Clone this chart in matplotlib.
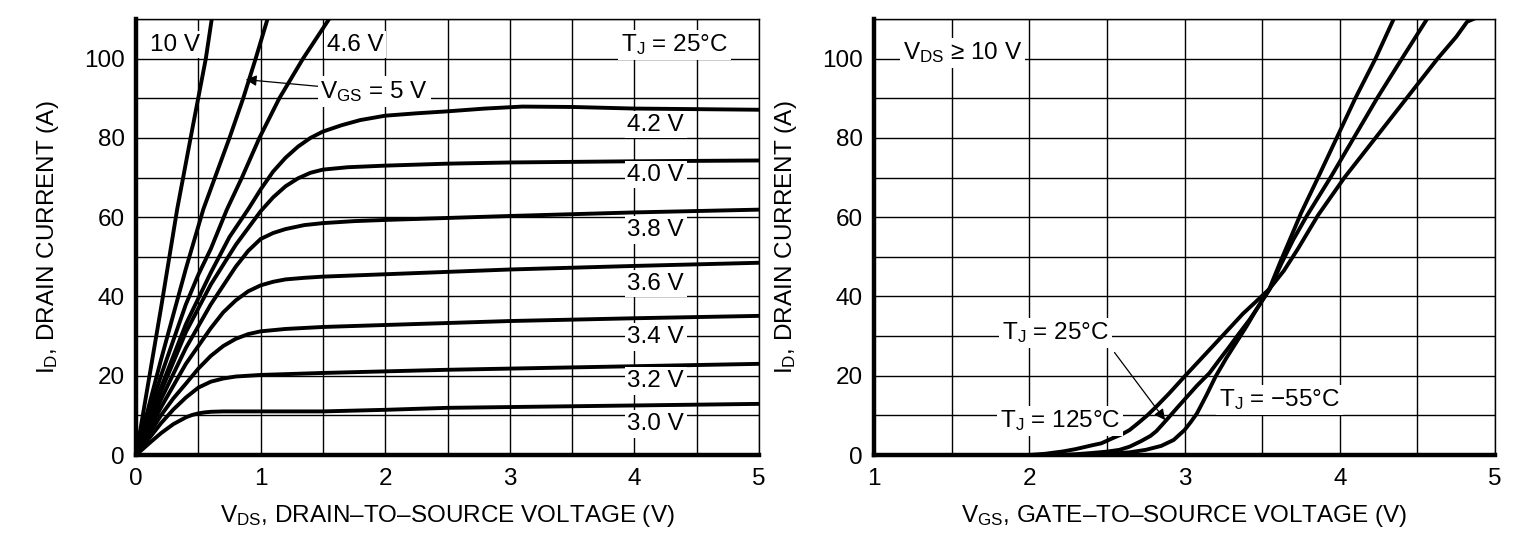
import matplotlib
matplotlib.use('Agg')
import matplotlib.pyplot as plt
from matplotlib.ticker import MultipleLocator

plt.rcParams['font.family'] = ['Liberation Sans', 'DejaVu Sans']
plt.rcParams['mathtext.fontset'] = 'custom'
plt.rcParams['mathtext.rm'] = 'Liberation Sans'
plt.rcParams['mathtext.it'] = 'Liberation Sans:italic'
plt.rcParams['font.size'] = 17.5

# --- left: output characteristics, ID vs VDS (TJ = 25 C)
vds_10v = [0, 0.2, 0.33, 0.45, 0.56, 0.61]
id_10v = [0, 37, 62, 82, 100, 110.5]
vds_5v = [0, 0.2, 0.4, 0.54, 0.75, 0.86, 0.96, 1.06]
id_5v = [0, 24, 47, 62, 80, 90, 100, 110.5]
vds_46v = [0, 0.2, 0.3, 0.4, 0.5, 0.6, 0.73, 0.85, 0.99, 1.15, 1.34, 1.56]
id_46v = [0, 20, 29, 38, 45.5, 52, 62, 70, 80, 90, 100, 110.5]
vds_42v = [0, 0.2, 0.4, 0.6, 0.75, 0.9, 1.0, 1.1, 1.2, 1.3, 1.4, 1.5, 1.65, 1.8, 2.0,
           2.25, 2.5, 2.8, 3.1, 3.5, 4.0, 5.0]
id_42v = [0, 17, 33, 46, 55, 62, 67, 71.5, 75, 77.8, 80, 81.6, 83.2, 84.5, 85.6,
          86.2, 86.7, 87.4, 87.9, 87.8, 87.4, 87.1]
vds_40v = [0, 0.2, 0.4, 0.6, 0.8, 1.0, 1.1, 1.2, 1.3, 1.4, 1.5, 1.7, 2.0, 2.5, 3.0, 4.0, 5.0]
id_40v = [0, 16, 31, 43, 53, 61.5, 65, 67.8, 69.8, 71.2, 72, 72.6, 73, 73.5, 73.8, 74.1, 74.3]
vds_38v = [0, 0.2, 0.4, 0.6, 0.8, 0.9, 1.0, 1.1, 1.2, 1.35, 1.5, 1.75, 2, 2.5, 3, 4, 5]
id_38v = [0, 14, 27, 38, 47.5, 51.5, 54.5, 56, 57, 58, 58.5, 59, 59.3, 59.8, 60.3, 61.2, 61.9]
vds_36v = [0, 0.2, 0.4, 0.6, 0.7, 0.8, 0.9, 1.0, 1.1, 1.2, 1.35, 1.5, 2, 2.5, 3, 4, 5]
id_36v = [0, 12, 23, 32, 36, 39, 41.3, 42.8, 43.7, 44.3, 44.7, 45, 45.6, 46.2, 46.8, 47.7, 48.5]
vds_34v = [0, 0.1, 0.2, 0.3, 0.4, 0.5, 0.6, 0.7, 0.8, 0.9, 1.0, 1.2, 1.5, 2, 2.5, 3, 4, 5]
id_34v = [0, 5, 10, 14.3, 18, 21.8, 25, 27.5, 29.3, 30.5, 31.2, 31.8, 32.3, 32.8, 33.3, 33.8, 34.5, 35.1]
vds_32v = [0, 0.1, 0.2, 0.3, 0.4, 0.5, 0.6, 0.7, 0.8, 0.9, 1.0, 1.5, 2, 2.5, 3, 4, 5]
id_32v = [0, 4, 8, 11.5, 14.5, 17, 18.5, 19.3, 19.8, 20.0, 20.2, 20.7, 21.1, 21.5, 21.8, 22.4, 23]
vds_30v = [0, 0.1, 0.2, 0.3, 0.4, 0.45, 0.5, 0.55, 0.6, 0.7, 0.8, 1, 1.5, 2, 2.5, 3, 4, 5]
id_30v = [0, 2.8, 5.5, 7.8, 9.5, 10.1, 10.5, 10.75, 10.9, 11, 11, 11, 11, 11.4, 11.9, 12.1, 12.5, 12.9]

vgs_labels = ['4.2 V', '4.0 V', '3.8 V', '3.6 V', '3.4 V', '3.2 V', '3.0 V']
vgs_label_y = [83.3, 70.7, 56.8, 43.2, 29.8, 18.7, 7.8]

# --- right: transfer characteristics, ID vs VGS (VDS >= 10 V)
vgs_m55 = [1.0, 2.3, 2.5, 2.65, 2.75, 2.85, 2.93, 3.0, 3.04, 3.08, 3.14, 3.2, 3.27, 3.33,
           3.4, 3.46, 3.547, 3.62, 3.68, 3.75, 3.86, 3.98, 4.10, 4.23, 4.353]
id_m55 = [0, 0, 0.2, 0.7, 1.3, 2.3, 3.8, 6.3, 8.3, 10.5, 15, 19.8, 24.5, 28.2,
          32.5, 36.5, 42, 49, 54.5, 61, 70, 80, 90, 100, 110.5]
vgs_25 = [1.0, 2.2, 2.3, 2.4, 2.5, 2.58, 2.646, 2.72, 2.78, 2.818, 2.86, 2.903, 2.95, 3.0,
          3.08, 3.161, 3.22, 3.29, 3.35, 3.418, 3.48, 3.547, 3.62, 3.70, 3.79, 3.94, 4.09,
          4.24, 4.40, 4.57]
id_25 = [0, 0, 0.2, 0.5, 0.85, 1.3, 2.1, 3.5, 4.8, 6.0, 7.8, 9.7, 11.8, 14,
         17.5, 20.7, 23.8, 27.4, 30.6, 34.1, 37.7, 41.7, 48, 54.3, 60.5, 70, 80,
         90, 100, 110.5]
vgs_125 = [1.0, 2.0, 2.1, 2.217, 2.3, 2.41, 2.464, 2.54, 2.6, 2.646, 2.7, 2.76, 2.818, 2.9,
           3.0, 3.1, 3.2, 3.29, 3.375, 3.46, 3.547, 3.64, 3.73, 3.86, 4.03, 4.23, 4.43,
           4.63, 4.75, 4.82, 4.89]
id_125 = [0, 0, 0.3, 0.9, 1.5, 2.5, 2.95, 4.3, 5.3, 6.3, 8, 10, 12.2, 15.5,
          19.8, 24, 28.2, 32, 35.6, 38.7, 41.9, 46.5, 52, 60.5, 70, 80, 90,
          100, 105.5, 109.3, 110.5]

fig = plt.figure(figsize=(15.2, 5.42), dpi=100)
ax1 = fig.add_axes([0.0895, 0.1605, 0.4099, 0.8045])
ax2 = fig.add_axes([0.575, 0.1605, 0.4086, 0.8045])

lw = 2.8
for x, y in [(vds_10v, id_10v), (vds_5v, id_5v), (vds_46v, id_46v), (vds_42v, id_42v),
             (vds_40v, id_40v), (vds_38v, id_38v), (vds_36v, id_36v), (vds_34v, id_34v),
             (vds_32v, id_32v), (vds_30v, id_30v)]:
    ax1.plot(x, y, color='black', lw=lw, solid_capstyle='round', solid_joinstyle='round', zorder=3)

for x, y in [(vgs_m55, id_m55), (vgs_25, id_25), (vgs_125, id_125)]:
    ax2.plot(x, y, color='black', lw=lw, solid_capstyle='round', solid_joinstyle='round', zorder=3)

box = dict(facecolor='white', edgecolor='none', pad=2)

for ax, (x0, x1) in [(ax1, (0, 5)), (ax2, (1, 5))]:
    ax.set_xlim(x0, x1)
    ax.set_ylim(0, 110)
    ax.xaxis.set_major_locator(MultipleLocator(1))
    ax.xaxis.set_minor_locator(MultipleLocator(0.5))
    ax.yaxis.set_major_locator(MultipleLocator(20))
    ax.yaxis.set_minor_locator(MultipleLocator(10))
    ax.grid(which='both', color='black', lw=1.0, zorder=0)
    ax.set_axisbelow(True)
    ax.tick_params(which='both', length=0, labelsize=17.5)
    ax.tick_params(axis='x', pad=9)
    ax.tick_params(axis='y', pad=8)
    for s in ['left', 'bottom']:
        ax.spines[s].set_linewidth(3.2)
        ax.spines[s].set_zorder(4)
    for s in ['top', 'right']:
        ax.spines[s].set_linewidth(1.0)
    ax.set_ylabel(r'I$_{\mathrm{D}}$, DRAIN CURRENT (A)', fontsize=17.5, labelpad=17)

ax1.set_xlabel(r'V$_{\mathrm{DS}}$, DRAIN–TO–SOURCE VOLTAGE (V)', fontsize=17.5, labelpad=10)
ax2.set_xlabel(r'V$_{\mathrm{GS}}$, GATE–TO–SOURCE VOLTAGE (V)', fontsize=17.5, labelpad=10)

# left panel labels
ax1.text(0.31, 103.5, '10 V', ha='center', va='center', bbox=box, zorder=5)
ax1.text(1.76, 103.5, '4.6 V', ha='center', va='center', bbox=box, zorder=5)
ax1.text(4.32, 103.5, r'T$_{\mathrm{J}}$ = 25°C', ha='center', va='center', bbox=box, zorder=5)
ax1.annotate(r'V$_{\mathrm{GS}}$ = 5 V', xy=(0.88, 94.7), xytext=(1.48, 91.7),
             ha='left', va='center', bbox=box, zorder=5,
             arrowprops=dict(arrowstyle='-|>', color='black', lw=0.9, mutation_scale=16,
                             shrinkA=0, shrinkB=0))
for lab, y in zip(vgs_labels, vgs_label_y):
    ax1.text(4.17, y, lab, ha='center', va='center', bbox=box, zorder=5)

# right panel labels
ax2.text(1.57, 101.5, r'V$_{\mathrm{DS}}$ ≥ 10 V', ha='center', va='center', bbox=box, zorder=5)
ax2.annotate(r'T$_{\mathrm{J}}$ = 25°C', xy=(2.875, 8.8), xytext=(2.17, 30.8),
             ha='center', va='center', bbox=box, zorder=5,
             arrowprops=dict(arrowstyle='-|>', color='black', lw=0.9, mutation_scale=16,
                             shrinkA=4, shrinkB=0, relpos=(1.0, 0.0)))
ax2.text(2.2, 8.6, r'T$_{\mathrm{J}}$ = 125°C', ha='center', va='center', bbox=box, zorder=5)
ax2.text(3.61, 13.9, r'T$_{\mathrm{J}}$ = −55°C', ha='center', va='center', bbox=box, zorder=5)

fig.savefig('out.png', dpi=100)
